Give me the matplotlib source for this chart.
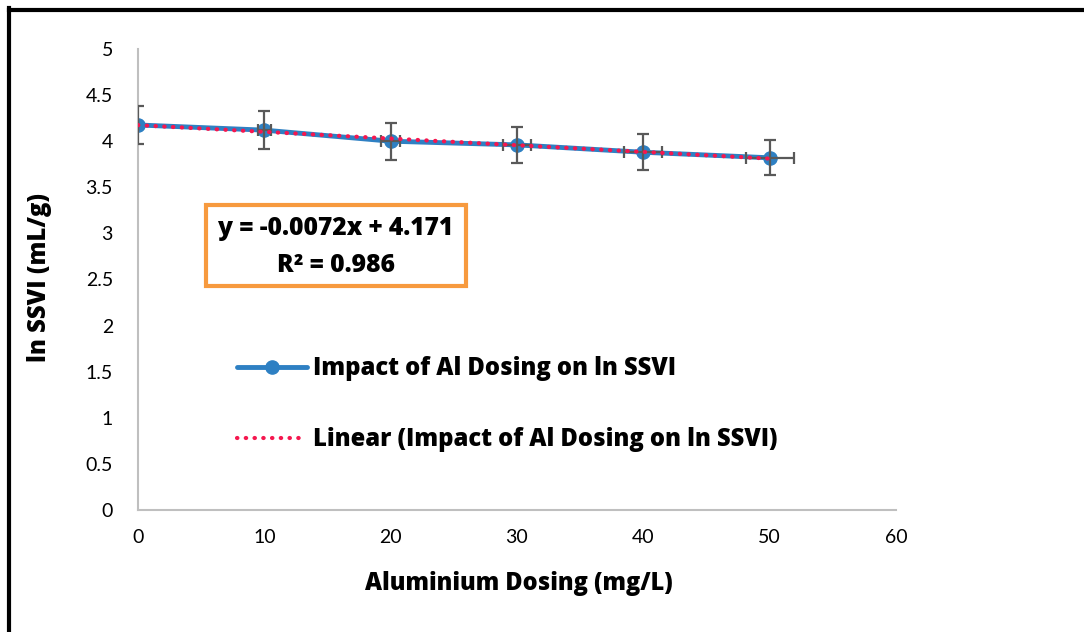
import numpy as np
import matplotlib
matplotlib.use("Agg")
import matplotlib.pyplot as plt
from matplotlib.lines import Line2D
from matplotlib.patches import Rectangle

plt.rcParams['font.family'] = ['Lato', 'DejaVu Sans']
BOLD = ['Open Sans', 'DejaVu Sans']
WGT = 800

# Data
dosing = [0, 10, 20, 30, 40, 50]
ln_ssvi = [4.176, 4.12, 4.00, 3.96, 3.88, 3.82]
y_err = [0.21, 0.205, 0.20, 0.198, 0.195, 0.19]
x_err = [0.0, 0.5, 0.75, 1.1, 1.5, 1.9]
x_ticks = [0, 10, 20, 30, 40, 50, 60]
y_ticks = [0, 0.5, 1, 1.5, 2, 2.5, 3, 3.5, 4, 4.5, 5]
series_label = "Impact of Al Dosing on ln SSVI"
trend_label = "Linear (Impact of Al Dosing on ln SSVI)"
equation_text = "y = -0.0072x + 4.171"
r2_text = "R² = 0.986"

W, H = 1084, 632
fig = plt.figure(figsize=(W / 100, H / 100), dpi=100)
ax = fig.add_axes([138 / W, 1 - 510 / H, (896 - 138) / W, (510 - 49) / H])
renderer = fig.canvas.get_renderer()


def fit(txt, target, vertical=False):
    """Scale a text's font size so its ink extent matches target pixels."""
    for _ in range(3):
        bb = txt.get_window_extent(renderer)
        cur = bb.height if vertical else bb.width
        txt.set_fontsize(txt.get_fontsize() * target / cur)


blue = '#2E80C3'
red = '#F5174F'
gray = '#595959'

line, = ax.plot(dosing, ln_ssvi, color=blue, lw=3.5, marker='o', ms=9.5,
                zorder=2, label=series_label, solid_capstyle='round')
ax.errorbar(dosing, ln_ssvi, yerr=y_err, xerr=x_err, fmt='none',
            ecolor=gray, elinewidth=1.6, capsize=4.5, capthick=1.6, zorder=3)

coef = np.polyfit(dosing, ln_ssvi, 1)
xt = np.array([dosing[0], dosing[-1]])
trend, = ax.plot(xt, np.polyval(coef, xt), color=red, lw=3,
                 linestyle=(0, (0.1, 2.0)), dash_capstyle='round', zorder=4,
                 label=trend_label)

ax.set_xlim(0, 60)
ax.set_ylim(0, 5)
ax.set_xticks(x_ticks)
ax.set_yticks(y_ticks)
ax.set_xticklabels([str(v) for v in x_ticks])
ax.set_yticklabels([f"{v:g}" for v in y_ticks])
ax.tick_params(length=0, labelsize=14, pad=14, colors='black')
ax.tick_params(axis='y', pad=18)
for s in ['top', 'right']:
    ax.spines[s].set_visible(False)
for s in ['left', 'bottom']:
    ax.spines[s].set_color('#BFBFBF')
    ax.spines[s].set_linewidth(1.5)

xl = fig.text(519 / W, 1 - 583 / H, "Aluminium Dosing (mg/L)", ha='center', va='center',
              fontsize=17, fontweight=WGT, family=BOLD)
fit(xl, 308)
yl = fig.text(40 / W, 1 - 277 / H, "ln SSVI (mL/g)", ha='center', va='center',
              fontsize=17, fontweight=WGT, rotation=90, family=BOLD)
fit(yl, 169, vertical=True)

# Equation box
fig.add_artist(Rectangle((206 / W, 1 - 286 / H), 260 / W, 81 / H,
                         transform=fig.transFigure, fill=False,
                         edgecolor='#F79A3E', linewidth=3))
eq = fig.text(336 / W, 1 - 229 / H, equation_text, ha='center', va='center',
              fontsize=17, fontweight=WGT, family=BOLD)
fit(eq, 236)
r2 = fig.text(336 / W, 1 - 265 / H, r2_text, ha='center', va='center',
              fontsize=eq.get_fontsize(), fontweight=WGT, family=BOLD)

# legend: size chosen so the first label is ~363 px wide
probe = fig.text(0, 0, series_label, fontsize=17, fontweight=WGT, family=BOLD)
fit(probe, 363)
leg_fs = probe.get_fontsize()
probe.remove()

leg = fig.legend(handles=[line, trend], loc='center left',
                 bbox_to_anchor=(237 / W, 1 - 404 / H), bbox_transform=fig.transFigure,
                 frameon=False, borderpad=0, borderaxespad=0,
                 handlelength=70 / (leg_fs * 100 / 72),
                 handletextpad=6 / (leg_fs * 100 / 72),
                 labelspacing=1.95,
                 prop={'size': leg_fs, 'weight': WGT, 'family': BOLD})

# Outer border (top and left edges visible)
fig.add_artist(Line2D([9 / W, 1], [1 - 9.5 / H, 1 - 9.5 / H], transform=fig.transFigure,
                      color='black', lw=3))
fig.add_artist(Line2D([9 / W, 9 / W], [0, 1 - 8 / H], transform=fig.transFigure,
                      color='black', lw=3))

fig.savefig('out.png', dpi=100)
